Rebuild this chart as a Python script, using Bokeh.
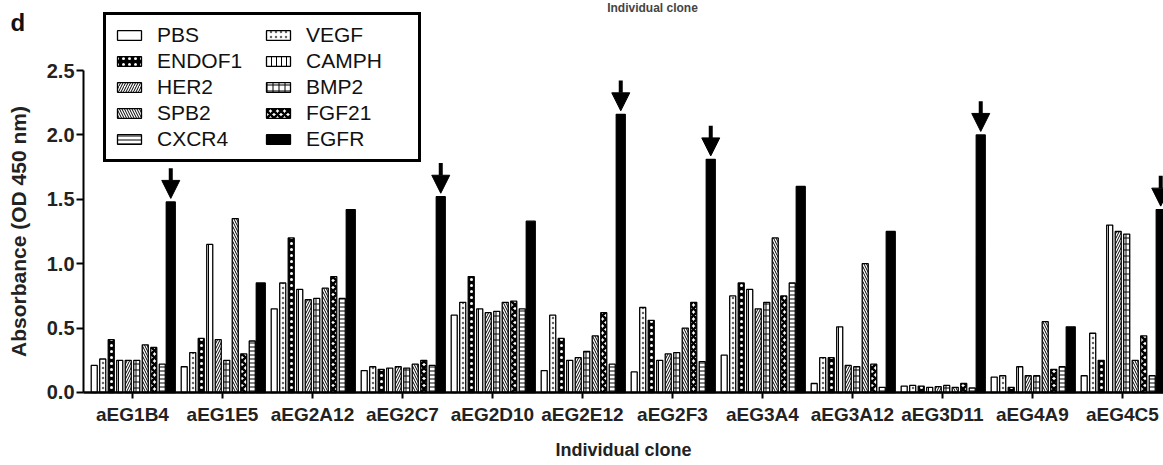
from bokeh.plotting import figure
from bokeh.models import (ColumnDataSource, FixedTicker, Legend, LegendItem, Label,
                          Arrow, NormalHead, Range1d)
from bokeh.embed import file_html
from bokeh.resources import INLINE

# ---------------- data ----------------
clones = ["aEG1B4", "aEG1E5", "aEG2A12", "aEG2C7", "aEG2D10", "aEG2E12",
          "aEG2F3", "aEG3A4", "aEG3A12", "aEG3D11", "aEG4A9", "aEG4C5"]

pbs    = [0.21, 0.20, 0.65, 0.17, 0.60, 0.17, 0.16, 0.29, 0.07, 0.05, 0.12, 0.13]
vegf   = [0.26, 0.31, 0.85, 0.20, 0.70, 0.60, 0.66, 0.75, 0.27, 0.055, 0.13, 0.46]
endof1 = [0.41, 0.42, 1.20, 0.18, 0.90, 0.42, 0.56, 0.85, 0.27, 0.05, 0.04, 0.25]
camph  = [0.25, 1.15, 0.80, 0.19, 0.65, 0.25, 0.25, 0.80, 0.51, 0.04, 0.20, 1.30]
her2   = [0.25, 0.41, 0.72, 0.20, 0.62, 0.27, 0.30, 0.65, 0.21, 0.045, 0.13, 1.25]
bmp2   = [0.25, 0.25, 0.73, 0.19, 0.63, 0.32, 0.31, 0.70, 0.20, 0.055, 0.13, 1.23]
spb2   = [0.37, 1.35, 0.81, 0.22, 0.70, 0.44, 0.50, 1.20, 1.00, 0.04, 0.55, 0.25]
fgf21  = [0.35, 0.30, 0.90, 0.25, 0.71, 0.62, 0.70, 0.75, 0.22, 0.07, 0.18, 0.44]
cxcr4  = [0.22, 0.40, 0.73, 0.21, 0.65, 0.22, 0.24, 0.85, 0.04, 0.035, 0.20, 0.13]
egfr   = [1.48, 0.85, 1.42, 1.52, 1.33, 2.16, 1.81, 1.60, 1.25, 2.00, 0.51, 1.42]

arrow_clones = ["aEG1B4", "aEG2C7", "aEG2E12", "aEG2F3", "aEG3D11", "aEG4C5"]

y_ticks = [0.0, 0.5, 1.0, 1.5, 2.0, 2.5]
y_tick_labels = ["0.0", "0.5", "1.0", "1.5", "2.0", "2.5"]

# bar order inside a group
series_names = ["PBS", "VEGF", "ENDOF1", "CAMPH", "HER2", "BMP2", "SPB2", "FGF21", "CXCR4", "EGFR"]
series_vals = [pbs, vegf, endof1, camph, her2, bmp2, spb2, fgf21, cxcr4, egfr]

# legend order (column by column)
legend_order = ["PBS", "ENDOF1", "HER2", "SPB2", "CXCR4", "VEGF", "CAMPH", "BMP2", "FGF21", "EGFR"]

# ---------------- styles ----------------
styles = {
    "PBS":    dict(fill_color="white"),
    "VEGF":   dict(fill_color="white", hatch_pattern="dot", hatch_scale=5, hatch_color="#666666"),
    "ENDOF1": dict(fill_color="black", hatch_pattern="dot", hatch_scale=6, hatch_color="white"),
    "CAMPH":  dict(fill_color="white", hatch_pattern="vertical_line", hatch_scale=5, hatch_weight=1),
    "HER2":   dict(fill_color="white", hatch_pattern="right_diagonal_line", hatch_scale=5, hatch_weight=1),
    "BMP2":   dict(fill_color="white", hatch_pattern="cross", hatch_scale=6, hatch_weight=1),
    "SPB2":   dict(fill_color="white", hatch_pattern="left_diagonal_line", hatch_scale=5, hatch_weight=1),
    "FGF21":  dict(fill_color="white", hatch_pattern="diagonal_cross", hatch_scale=7, hatch_weight=2.5),
    "CXCR4":  dict(fill_color="white", hatch_pattern="horizontal_line", hatch_scale=4, hatch_weight=1),
    "EGFR":   dict(fill_color="black"),
}

FONT = "Liberation Sans"
W, H = 1163, 465
slot = 0.0945
bar_w = 0.067
y_axis_at = -0.544          # x position (data) of the y axis

p = figure(width=W, height=H, output_backend="svg", toolbar_location=None,
           x_range=Range1d(-1.4667, 11.456), y_range=Range1d(-0.5668, 3.0435),
           min_border_left=0, min_border_right=0, min_border_top=0, min_border_bottom=0)
p.title.visible = False
p.grid.visible = False
p.outline_line_color = None
p.background_fill_color = "white"
p.border_fill_color = "white"

renderers = {}
for j, (name, vals) in enumerate(zip(series_names, series_vals)):
    xs = [i + (j - 4.5) * slot for i in range(len(clones))]
    src = ColumnDataSource(dict(x=xs, top=vals))
    w = 0.1 if name == "EGFR" else bar_w
    st = dict(styles[name])
    hc = st.pop("hatch_color", "black")
    r = p.vbar(x="x", top="top", bottom=0, width=w, source=src,
               line_color="black", line_width=1.3, hatch_color=hc, **st)
    renderers[name] = r

# arrows above EGFR bars of selected clones
ax, ay0, ay1 = [], [], []
for c in arrow_clones:
    i = clones.index(c)
    ax.append(i + 4.5 * slot)
    ay1.append(egfr[i] + 0.027)
    ay0.append(egfr[i] + 0.027 + 0.235)
asrc = ColumnDataSource(dict(x=ax, y0=ay0, y1=ay1))
p.add_layout(Arrow(end=NormalHead(size=18, fill_color="black", line_color="black", line_width=1),
                   x_start="x", y_start="y0", x_end="x", y_end="y1", source=asrc,
                   line_width=4, line_color="black"))

# axes (drawn at fixed positions inside the full-canvas frame)
p.xaxis.fixed_location = 0
p.xaxis.bounds = (y_axis_at, 11.456)
p.xaxis.ticker = FixedTicker(ticks=list(range(len(clones))))
p.xaxis.major_label_overrides = {i: c for i, c in enumerate(clones)}
p.xaxis.axis_label = "Individual clone"
p.xaxis.minor_tick_line_color = None
p.xaxis.major_tick_in = 0
p.xaxis.major_tick_out = 6
p.xaxis.major_tick_line_width = 2
p.xaxis.axis_line_width = 2.5
p.xaxis.major_label_standoff = 6
p.xaxis.axis_label_standoff = 11
p.xaxis.major_label_text_font = FONT
p.xaxis.major_label_text_font_style = "bold"
p.xaxis.major_label_text_font_size = "19px"
p.xaxis.major_label_text_color = "#222222"
p.xaxis.axis_label_text_font = FONT
p.xaxis.axis_label_text_font_style = "bold"
p.xaxis.axis_label_text_font_size = "18px"
p.xaxis.axis_label_text_color = "#222222"

p.yaxis.fixed_location = y_axis_at
p.yaxis.ticker = FixedTicker(ticks=y_ticks)
p.yaxis.major_label_overrides = {t: l for t, l in zip(y_ticks, y_tick_labels)}
p.yaxis.bounds = (0, 2.5)
p.yaxis.axis_label = "Absorbance (OD 450 nm)"
p.yaxis.minor_tick_line_color = None
p.yaxis.major_tick_in = 0
p.yaxis.major_tick_out = 7
p.yaxis.major_tick_line_width = 2
p.yaxis.axis_line_width = 2
p.yaxis.major_label_standoff = 2
p.yaxis.axis_label_standoff = 14
p.yaxis.major_label_text_font = FONT
p.yaxis.major_label_text_font_style = "bold"
p.yaxis.major_label_text_font_size = "20px"
p.yaxis.major_label_text_color = "#222222"
p.yaxis.axis_label_text_font = FONT
p.yaxis.axis_label_text_font_style = "bold"
p.yaxis.axis_label_text_font_size = "21px"
p.yaxis.axis_label_text_color = "#222222"

# legend
items = [LegendItem(label=n, renderers=[renderers[n]]) for n in legend_order]
legend = Legend(items=items, location=(103, H - 162), ncols=2,
                label_text_font=FONT, label_text_font_size="21px", label_text_color="#111111",
                label_height=21, glyph_height=12, glyph_width=30, label_standoff=13,
                label_width=104, spacing=2, padding=8, margin=0,
                border_line_color="black", border_line_width=3, border_line_alpha=1.0,
                background_fill_color="white", background_fill_alpha=1)
p.add_layout(legend, "center")

# panel letter (screen units)
p.add_layout(Label(x=10, y=H - 22, x_units="screen", y_units="screen", text="d",
                   text_font=FONT, text_font_style="bold", text_font_size="24px",
                   text_color="#111111", text_baseline="middle", text_align="left"))
# caption of the panel above, at the top edge
p.add_layout(Label(x=652, y=H, x_units="screen", y_units="screen", text="Individual clone",
                   text_font=FONT, text_font_style="bold", text_font_size="12px",
                   text_color="#444444", text_align="center", text_baseline="top"))

open("out.html", "w").write(file_html(p, INLINE))
